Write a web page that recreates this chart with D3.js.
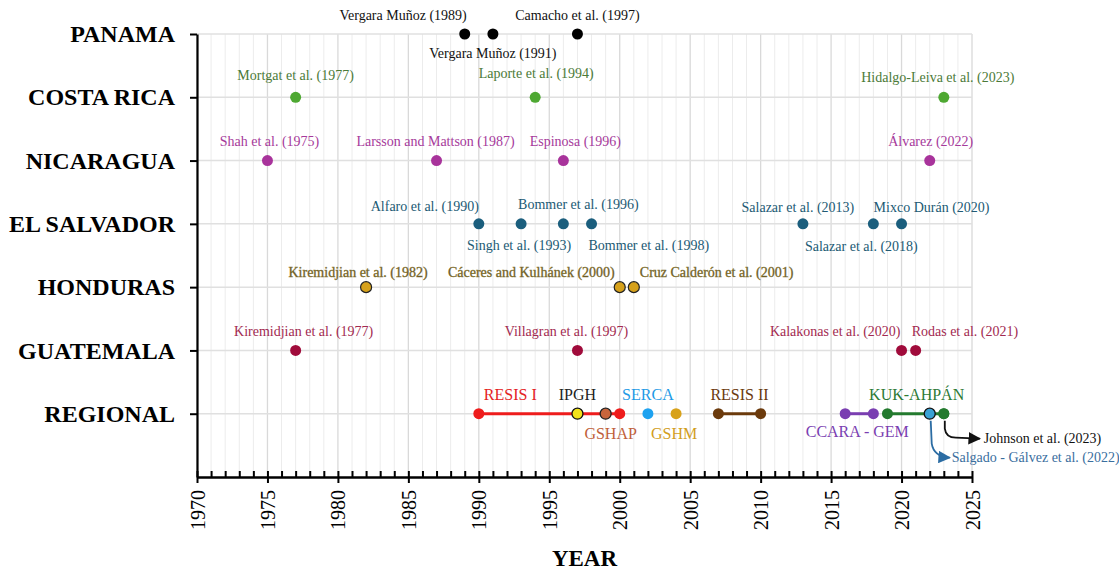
<!DOCTYPE html>
<html>
<head>
<meta charset="utf-8">
<script src="https://cdn.jsdelivr.net/npm/d3@7"></script>
<style>
  body { margin: 0; background: #fff; }
  svg, svg text { font-family: "Liberation Serif", "Times New Roman", serif; }
</style>
</head>
<body>
<div></div>
<script>
var width = 1119, height = 571;
var serif = "Liberation Serif, Times New Roman, serif";

// rows, top to bottom
var countries = ["PANAMA", "COSTA RICA", "NICARAGUA", "EL SALVADOR", "HONDURAS", "GUATEMALA", "REGIONAL"];
var yearTicks = [1970, 1975, 1980, 1985, 1990, 1995, 2000, 2005, 2010, 2015, 2020, 2025];

// studies per country: [label, year]
var panama = [["Vergara Muñoz (1989)", 1989], ["Vergara Muñoz (1991)", 1991], ["Camacho et al. (1997)", 1997]];
var costaRica = [["Mortgat et al. (1977)", 1977], ["Laporte et al. (1994)", 1994], ["Hidalgo-Leiva et al. (2023)", 2023]];
var nicaragua = [["Shah et al. (1975)", 1975], ["Larsson and Mattson (1987)", 1987], ["Espinosa (1996)", 1996], ["Álvarez (2022)", 2022]];
var elSalvador = [["Alfaro et al. (1990)", 1990], ["Singh et al. (1993)", 1993], ["Bommer et al. (1996)", 1996], ["Bommer et al. (1998)", 1998],
                  ["Salazar et al. (2013)", 2013], ["Salazar et al. (2018)", 2018], ["Mixco Durán (2020)", 2020]];
var honduras = [["Kiremidjian et al. (1982)", 1982], ["Cáceres and Kulhánek (2000)", 2000], ["Cruz Calderón et al. (2001)", 2001]];
var guatemala = [["Kiremidjian et al. (1977)", 1977], ["Villagran et al. (1997)", 1997], ["Kalakonas et al. (2020)", 2020], ["Rodas et al. (2021)", 2021]];

// regional programs: [label, start, end]
var regionalSpans = [["RESIS I", 1990, 2000], ["RESIS II", 2007, 2010], ["CCARA - GEM", 2016, 2018], ["KUK-AHPÁN", 2019, 2023]];
// regional single points: [label, year]
var regionalPoints = [["IPGH", 1997], ["GSHAP", 1999], ["SERCA", 2002], ["GSHM", 2004], ["Salgado - Gálvez et al. (2022)", 2022], ["Johnson et al. (2023)", 2023]];

var rows = [panama, costaRica, nicaragua, elSalvador, honduras, guatemala];

// styling
var dotColor = ["#000000", "#4ea832", "#a8339b", "#1b5e7d", "#d6a11b", "#a00b3b"];
var textColor = ["#111111", "#4b7a38", "#a63a9b", "#215a74", "#645420", "#a22a50"];
var outlined = [false, false, false, false, true, false];

// label placement: [anchor, dx, dy]
var place = {
  "Vergara Muñoz (1989)": ["end", 2, -14],
  "Vergara Muñoz (1991)": ["middle", 0, 24],
  "Camacho et al. (1997)": ["middle", 0, -14],
  "Mortgat et al. (1977)": ["middle", 0, -17],
  "Laporte et al. (1994)": ["middle", 1, -19],
  "Hidalgo-Leiva et al. (2023)": ["middle", -6, -15],
  "Shah et al. (1975)": ["middle", 2, -15],
  "Larsson and Mattson (1987)": ["middle", -1, -15],
  "Espinosa (1996)": ["middle", 12, -15],
  "Álvarez (2022)": ["middle", 1, -15],
  "Alfaro et al. (1990)": ["end", 0, -13],
  "Singh et al. (1993)": ["middle", -2, 26],
  "Bommer et al. (1996)": ["middle", 15, -15],
  "Bommer et al. (1998)": ["start", -3, 26],
  "Salazar et al. (2013)": ["middle", -5, -12],
  "Salazar et al. (2018)": ["middle", -12, 27],
  "Mixco Durán (2020)": ["middle", 30, -12],
  "Kiremidjian et al. (1982)": ["middle", -8, -10],
  "Cáceres and Kulhánek (2000)": ["end", -5, -10],
  "Cruz Calderón et al. (2001)": ["start", 6, -10],
  "Kiremidjian et al. (1977)": ["middle", 8, -14],
  "Villagran et al. (1997)": ["middle", -11, -14],
  "Kalakonas et al. (2020)": ["end", -1, -14],
  "Rodas et al. (2021)": ["start", -4, -14]
};

var spanColor = {"RESIS I": "#ee1c1c", "RESIS II": "#6b3a0c", "CCARA - GEM": "#7a3eb1", "KUK-AHPÁN": "#237a2e"};
var spanText = {"RESIS I": "#e42222", "RESIS II": "#6b3a0c", "CCARA - GEM": "#7a3eb1", "KUK-AHPÁN": "#2e7a36"};
var spanPlace = {"RESIS I": ["start", 5, -14, "start"], "RESIS II": ["middle", 0, -14, "mid"],
                 "CCARA - GEM": ["middle", -2, 23, "mid"], "KUK-AHPÁN": ["middle", 1, -14, "mid"]};
var pointFill = {"IPGH": "#f2e21a", "GSHAP": "#c8653c", "SERCA": "#1ea2f0", "GSHM": "#d8a21a",
                 "Salgado - Gálvez et al. (2022)": "#3aa2d4", "Johnson et al. (2023)": "#237a2e"};
var pointStroke = {"IPGH": "#111", "GSHAP": "#222", "Salgado - Gálvez et al. (2022)": "#111"};
var pointText = {"IPGH": "#222222", "GSHAP": "#c0603a", "SERCA": "#1e9ae6", "GSHM": "#d29e1c"};
var pointPlace = {"IPGH": [0, -14], "GSHAP": [5, 25], "SERCA": [0, -14], "GSHM": [-2, 25]};

var margin = {left: 197, right: 147, top: 34, bottom: 94};

var x = d3.scaleLinear().domain([1970, 2025]).range([margin.left, width - margin.right]);
var y = d3.scaleLinear().domain([0, 7]).range([margin.top, height - margin.bottom]);

var svg = d3.select("div").append("svg")
    .attr("width", width)
    .attr("height", height)
    .attr("font-family", serif);

svg.append("rect").attr("width", width).attr("height", height).attr("fill", "#fff");

// grid
var grid = svg.append("g").attr("class", "grid");
grid.selectAll("line.v")
    .data(d3.range(1970, 2026))
  .enter().append("line")
    .attr("x1", d => x(d)).attr("x2", d => x(d))
    .attr("y1", y(0)).attr("y2", y(7))
    .attr("stroke", d => d % 5 === 0 ? "#d9d9d9" : "#ececec")
    .attr("stroke-width", d => d % 5 === 0 ? 1.3 : 1);
grid.selectAll("line.h")
    .data(d3.range(0, 7))
  .enter().append("line")
    .attr("x1", x(1970)).attr("x2", x(2025))
    .attr("y1", d => y(d)).attr("y2", d => y(d))
    .attr("stroke", "#e0e0e0")
    .attr("stroke-width", 1.5);

// y axis
var yAxis = svg.append("g")
    .attr("transform", "translate(" + x(1970) + ",0)")
    .call(d3.axisLeft(y).tickValues(d3.range(7)).tickFormat(i => countries[i])
      .tickSize(7).tickSizeOuter(0).tickPadding(15));
yAxis.attr("font-family", serif);
yAxis.select(".domain").attr("stroke-width", 2.2);
yAxis.selectAll(".tick line").attr("stroke-width", 2);
yAxis.selectAll("text")
    .attr("font-family", serif)
    .attr("font-weight", "bold")
    .attr("font-size", 24)
    .attr("fill", "#000");

// x axis: minor inner ticks for every year, major ticks crossing
var xBase = y(7);
var xMinor = svg.append("g")
    .attr("transform", "translate(0," + xBase + ")")
    .call(d3.axisBottom(x).tickValues(d3.range(1970, 2026)).tickSize(-6).tickSizeOuter(0).tickFormat(""));
xMinor.selectAll(".tick line").attr("stroke-width", 2);
xMinor.select(".domain").attr("stroke-width", 2.6);

var xAxis = svg.append("g")
    .attr("transform", "translate(0," + xBase + ")")
    .call(d3.axisBottom(x).tickValues(yearTicks).tickSize(6).tickSizeOuter(0).tickFormat(d3.format("d")));
xAxis.attr("font-family", serif);
xAxis.select(".domain").remove();
xAxis.selectAll(".tick line").attr("stroke-width", 2);
xAxis.selectAll("text")
    .attr("font-family", serif)
    .attr("font-size", 20)
    .attr("fill", "#000")
    .attr("transform", "rotate(-90)")
    .attr("text-anchor", "end")
    .attr("x", -13)
    .attr("y", 0)
    .attr("dy", "0.35em");

svg.append("text")
    .attr("x", (x(1970) + x(2025)) / 2)
    .attr("y", 566)
    .attr("text-anchor", "middle")
    .attr("font-family", serif)
    .attr("font-weight", "bold")
    .attr("font-size", 23)
    .text("YEAR");

// country rows
rows.forEach(function(list, i) {
  var g = svg.append("g");
  g.selectAll("circle")
      .data(list)
    .enter().append("circle")
      .attr("cx", d => x(d[1]))
      .attr("cy", y(i))
      .attr("r", 5.5)
      .attr("fill", dotColor[i])
      .attr("stroke", outlined[i] ? "#222" : "none")
      .attr("stroke-width", 1.2);
  g.selectAll("text")
      .data(list)
    .enter().append("text")
      .attr("x", d => x(d[1]) + place[d[0]][1])
      .attr("y", d => y(i) + place[d[0]][2])
      .attr("text-anchor", d => place[d[0]][0])
      .attr("font-family", serif)
      .attr("font-size", 14)
      .attr("fill", textColor[i])
      .attr("stroke", outlined[i] ? "#8a7a3a" : "none")
      .attr("stroke-width", outlined[i] ? 0.35 : 0)
      .text(d => d[0]);
});

// regional row
var ry = y(6);
var reg = svg.append("g").attr("font-family", serif);

regionalSpans.forEach(function(s) {
  reg.append("line")
      .attr("x1", x(s[1])).attr("x2", x(s[2]))
      .attr("y1", ry).attr("y2", ry)
      .attr("stroke", spanColor[s[0]])
      .attr("stroke-width", 3);
  [s[1], s[2]].forEach(function(yr) {
    reg.append("circle")
        .attr("cx", x(yr)).attr("cy", ry).attr("r", 5.5)
        .attr("fill", spanColor[s[0]]);
  });
  var p = spanPlace[s[0]];
  var lx = p[3] === "start" ? x(s[1]) : (x(s[1]) + x(s[2])) / 2;
  reg.append("text")
      .attr("x", lx + p[1])
      .attr("y", ry + p[2])
      .attr("text-anchor", p[0])
      .attr("font-size", 16)
      .attr("fill", spanText[s[0]])
      .text(s[0]);
});

regionalPoints.forEach(function(pt) {
  reg.append("circle")
      .attr("cx", x(pt[1])).attr("cy", ry).attr("r", 5.5)
      .attr("fill", pointFill[pt[0]])
      .attr("stroke", pointStroke[pt[0]] || "none")
      .attr("stroke-width", 1.3);
  if (pointPlace[pt[0]]) {
    reg.append("text")
        .attr("x", x(pt[1]) + pointPlace[pt[0]][0])
        .attr("y", ry + pointPlace[pt[0]][1])
        .attr("text-anchor", "middle")
        .attr("font-size", 16)
        .attr("fill", pointText[pt[0]])
        .text(pt[0]);
  }
});

// callout arrows for the two latest regional studies
var defs = svg.append("defs");
[["arrBlack", "#111"], ["arrBlue", "#2b6ca3"]].forEach(function(m) {
  defs.append("marker")
      .attr("id", m[0])
      .attr("viewBox", "0 0 10 10")
      .attr("refX", 9).attr("refY", 5)
      .attr("markerWidth", 7).attr("markerHeight", 7)
      .attr("orient", "auto")
    .append("path")
      .attr("d", "M0,0 L10,5 L0,10 Z")
      .attr("fill", m[1]);
});

var jx = x(2023), sx = x(2022);
reg.append("path")
    .attr("d", "M" + (jx + 1) + "," + (ry + 7) + " L" + (jx + 1) + "," + (ry + 15) +
               " Q" + (jx + 2) + "," + (ry + 24) + " " + (jx + 12) + "," + (ry + 24) +
               " L" + (jx + 36) + "," + (ry + 25))
    .attr("fill", "none").attr("stroke", "#111").attr("stroke-width", 1.8)
    .attr("marker-end", "url(#arrBlack)");
reg.append("text")
    .attr("x", jx + 40).attr("y", ry + 29)
    .attr("font-size", 14).attr("fill", "#111")
    .text("Johnson et al. (2023)");

reg.append("path")
    .attr("d", "M" + (sx + 1) + "," + (ry + 7) + " L" + (sx + 2) + "," + (ry + 30) +
               " Q" + (sx + 4) + "," + (ry + 43) + " " + (sx + 20) + "," + (ry + 44))
    .attr("fill", "none").attr("stroke", "#2b6ca3").attr("stroke-width", 1.8)
    .attr("marker-end", "url(#arrBlue)");
reg.append("text")
    .attr("x", sx + 22).attr("y", ry + 48)
    .attr("font-size", 14).attr("fill", "#3a6e9e")
    .text("Salgado - Gálvez et al. (2022)");
</script>
</body>
</html>
